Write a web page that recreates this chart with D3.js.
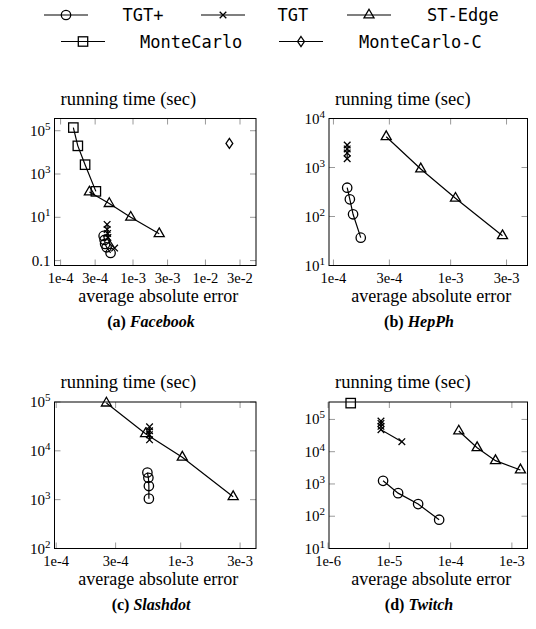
<!DOCTYPE html>
<html>
<head>
<meta charset="utf-8">
<script src="https://cdn.jsdelivr.net/npm/d3@7/dist/d3.min.js"></script>
<style>
  body { margin: 0; background: #fff; }
  svg { display: block; }
</style>
</head>
<body>
<svg id="chart" width="536" height="629"></svg>
<script>
// each point: [average absolute error, running time (sec)]

// (a) Facebook
var fbTgtPlus = [[3.93e-4, 1.38], [4.05e-4, 0.9], [4.12e-4, 0.59], [4.32e-4, 0.41], [4.9e-4, 0.225]];
var fbTgt = [[4.39e-4, 4.7], [4.39e-4, 2.75], [4.46e-4, 1.8], [4.5e-4, 1.17], [5.57e-4, 0.38]];
var fbStEdge = [[2.5e-4, 147], [4.7e-4, 43], [9.3e-4, 10], [2.3e-3, 1.74]];
var fbMonteCarlo = [[1.5e-4, 1.4e5], [1.73e-4, 2.0e4], [2.18e-4, 2.7e3], [3.07e-4, 158]];
var fbMonteCarloC = [[2.14e-2, 2.6e4]];

// (b) HepPh
var hpTgtPlus = [[1.31e-4, 387], [1.38e-4, 224], [1.47e-4, 111], [1.71e-4, 37]];
var hpTgt = [[1.31e-4, 2880], [1.31e-4, 2390], [1.31e-4, 1980], [1.31e-4, 1510]];
var hpStEdge = [[2.82e-4, 4250], [5.56e-4, 935], [1.1e-3, 235], [2.77e-3, 40.5]];

// (c) Slashdot
var sdTgtPlus = [[5.4e-4, 3600], [5.5e-4, 2800], [5.55e-4, 1900], [5.55e-4, 1050]];
var sdTgt = [[5.62e-4, 31000], [5.62e-4, 25800], [5.6e-4, 21400], [5.62e-4, 16800]];
var sdStEdge = [[2.53e-4, 9.5e4], [5.22e-4, 2.23e4], [1.03e-3, 7400], [2.64e-3, 1150]];

// (d) Twitch
var twTgtPlus = [[7.9e-6, 1250], [1.39e-5, 520], [2.95e-5, 238], [6.5e-5, 78]];
var twTgt = [[7.3e-6, 8.9e4], [7.3e-6, 7.5e4], [7.3e-6, 6.1e4], [7.3e-6, 4.8e4], [1.6e-5, 2.04e4]];
var twStEdge = [[1.36e-4, 4.36e4], [2.71e-4, 1.33e4], [5.4e-4, 5270], [1.38e-3, 2720]];
var twMonteCarlo = [[2.34e-6, 3.2e5]];

// tick values
var xTicksWide = [1e-4, 3e-4, 1e-3, 3e-3, 1e-2, 3e-2];
var xTicksMid = [1e-4, 3e-4, 1e-3, 3e-3];
var xTicksTw = [1e-6, 1e-5, 1e-4, 1e-3];
var yTicksFb = [0.1, 10, 1e3, 1e5];
var yTicksHp = [10, 100, 1e3, 1e4];
var yTicksSd = [100, 1e3, 1e4, 1e5];
var yTicksTw = [10, 100, 1e3, 1e4, 1e5];

var seriesNames = ["TGT+", "TGT", "ST-Edge", "MonteCarlo", "MonteCarlo-C"];
var seriesMarks = ["circle", "cross", "triangle", "square", "diamond"];

var svg = d3.select("#chart");
var serif = "'Liberation Serif', 'DejaVu Serif', serif";
var mono = "'DejaVu Sans Mono', 'Liberation Mono', monospace";

//------------------------------------------------------------
// markers (pgfplots style, unfilled)
//------------------------------------------------------------
function drawMark(g, type, x, y) {
    var m;
    if (type == "circle") {
        m = g.append("circle").attr("cx", x).attr("cy", y).attr("r", 4.7);
    } else if (type == "square") {
        m = g.append("rect").attr("x", x - 4.7).attr("y", y - 4.7).attr("width", 9.4).attr("height", 9.4);
    } else if (type == "triangle") {
        var r = 5.8;
        m = g.append("path").attr("d", "M" + x + "," + (y - r) + "L" + (x + 0.866 * r) + "," + (y + 0.5 * r) +
            "L" + (x - 0.866 * r) + "," + (y + 0.5 * r) + "Z");
    } else if (type == "diamond") {
        m = g.append("path").attr("d", "M" + x + "," + (y - 5) + "L" + (x + 3.4) + "," + y +
            "L" + x + "," + (y + 5) + "L" + (x - 3.4) + "," + y + "Z");
    } else {
        var s = 3.3;
        m = g.append("path").attr("d", "M" + (x - s) + "," + (y - s) + "L" + (x + s) + "," + (y + s) +
            "M" + (x - s) + "," + (y + s) + "L" + (x + s) + "," + (y - s));
    }
    m.attr("fill", "none").attr("stroke", "#000").attr("stroke-width", 1.3);
}

function fmtX(v) {
    var e = Math.floor(Math.log10(v) + 1e-9);
    var m = Math.round(v / Math.pow(10, e));
    return m + "e" + e;
}

//------------------------------------------------------------
// one panel
//------------------------------------------------------------
function panel(p) {
    var g = svg.append("g");
    var x = d3.scaleLog().domain(p.xDom).range([p.left, p.right]);
    var y = d3.scaleLog().domain(p.yDom).range([p.bottom, p.top]);

    // gray inside ticks on all four sides
    var tk = g.append("g").attr("stroke", "#9a9a9a").attr("stroke-width", 1);
    p.xTicks.forEach(function(v) {
        var xx = x(v);
        tk.append("line").attr("x1", xx).attr("x2", xx).attr("y1", p.bottom).attr("y2", p.bottom - 6);
        tk.append("line").attr("x1", xx).attr("x2", xx).attr("y1", p.top).attr("y2", p.top + 6);
    });
    p.yTicks.forEach(function(v) {
        var yy = y(v);
        tk.append("line").attr("x1", p.left).attr("x2", p.left + 6).attr("y1", yy).attr("y2", yy);
        tk.append("line").attr("x1", p.right).attr("x2", p.right - 6).attr("y1", yy).attr("y2", yy);
    });

    g.append("rect")
        .attr("x", p.left).attr("y", p.top)
        .attr("width", p.right - p.left).attr("height", p.bottom - p.top)
        .attr("fill", "none").attr("stroke", "#000").attr("stroke-width", 1);

    // tick labels
    p.xTicks.forEach(function(v) {
        g.append("text").attr("x", x(v)).attr("y", p.bottom + 17.5)
            .attr("text-anchor", "middle").attr("font-family", serif).attr("font-size", 14.5)
            .text(fmtX(v));
    });
    p.yTicks.forEach(function(v) {
        var t = g.append("text").attr("x", p.left - 4).attr("y", y(v) + 5)
            .attr("text-anchor", "end").attr("font-family", serif).attr("font-size", 15);
        if (v < 1) {
            t.text(String(v));
        } else {
            t.append("tspan").text("10");
            t.append("tspan").attr("dy", -6).attr("font-size", 11).text(Math.round(Math.log10(v)));
        }
    });

    g.append("text").attr("x", p.left + 6).attr("y", p.top - 14)
        .attr("font-family", serif).attr("font-size", 18.5).text("running time (sec)");
    g.append("text").attr("x", (p.left + p.right) / 2 + 3).attr("y", p.bottom + 36.5)
        .attr("text-anchor", "middle").attr("font-family", serif).attr("font-size", 18)
        .text("average absolute error");

    var cap = g.append("text").attr("x", p.capX).attr("y", p.bottom + 61)
        .attr("text-anchor", "middle").attr("font-family", serif).attr("font-size", 16)
        .attr("font-weight", "bold");
    cap.append("tspan").text(p.tag + " ");
    cap.append("tspan").attr("font-style", "italic").text(p.name);

    // series
    var line = d3.line().x(function(d) { return x(d[0]); }).y(function(d) { return y(d[1]); });
    p.series.forEach(function(s) {
        if (!s.data) return;
        g.append("path").datum(s.data).attr("d", line)
            .attr("fill", "none").attr("stroke", "#000").attr("stroke-width", 1.2);
        s.data.forEach(function(d) {
            drawMark(g, s.mark, x(d[0]), y(d[1]));
        });
    });
}

var colL = {left: 54.5, right: 256, capX: 151};
var colR = {left: 329, right: 527.5, capX: 419};
var rowT = {top: 118.5, bottom: 265.5};
var rowB = {top: 402, bottom: 548.5};

function cfg(col, row, o) {
    return Object.assign({}, col, row, o);
}

panel(cfg(colL, rowT, {
    tag: "(a)", name: "Facebook",
    xDom: [Math.pow(10, -4.084), Math.pow(10, -1.302)],
    yDom: [Math.pow(10, -1.227), Math.pow(10, 5.565)],
    xTicks: xTicksWide, yTicks: yTicksFb,
    series: [
        {mark: "circle", data: fbTgtPlus},
        {mark: "cross", data: fbTgt},
        {mark: "triangle", data: fbStEdge},
        {mark: "square", data: fbMonteCarlo},
        {mark: "diamond", data: fbMonteCarloC}
    ]
}));

panel(cfg(colR, rowT, {
    tag: "(b)", name: "HepPh",
    xDom: [Math.pow(10, -4.038), Math.pow(10, -2.344)],
    yDom: [10, 1e4],
    xTicks: xTicksMid, yTicks: yTicksHp,
    series: [
        {mark: "circle", data: hpTgtPlus},
        {mark: "cross", data: hpTgt},
        {mark: "triangle", data: hpStEdge}
    ]
}));

panel(cfg(colL, rowB, {
    tag: "(c)", name: "Slashdot",
    xDom: [Math.pow(10, -4.014), Math.pow(10, -2.395)],
    yDom: [100, 1e5],
    xTicks: xTicksMid, yTicks: yTicksSd,
    series: [
        {mark: "circle", data: sdTgtPlus},
        {mark: "cross", data: sdTgt},
        {mark: "triangle", data: sdStEdge}
    ]
}));

panel(cfg(colR, rowB, {
    tag: "(d)", name: "Twitch",
    xDom: [Math.pow(10, -5.985), Math.pow(10, -2.745)],
    yDom: [10, Math.pow(10, 5.54)],
    xTicks: xTicksTw, yTicks: yTicksTw,
    series: [
        {mark: "circle", data: twTgtPlus},
        {mark: "cross", data: twTgt},
        {mark: "triangle", data: twStEdge},
        {mark: "square", data: twMonteCarlo}
    ]
}));

//------------------------------------------------------------
// legend
//------------------------------------------------------------
var legendPos = [
    {x: 44, y: 15, tx: 122.5},
    {x: 201, y: 15, tx: 277.5},
    {x: 347, y: 15, tx: 427},
    {x: 61, y: 41.5, tx: 140},
    {x: 279, y: 41.5, tx: 359}
];
var lg = svg.append("g");
seriesNames.forEach(function(name, i) {
    var p = legendPos[i];
    lg.append("line").attr("x1", p.x).attr("x2", p.x + 44).attr("y1", p.y).attr("y2", p.y)
        .attr("stroke", "#000").attr("stroke-width", 1.2);
    drawMark(lg, seriesMarks[i], p.x + 22, p.y);
    lg.append("text").attr("x", p.tx).attr("y", p.y + 6)
        .attr("font-family", mono).attr("font-size", 17).text(name);
});
</script>
</body>
</html>
